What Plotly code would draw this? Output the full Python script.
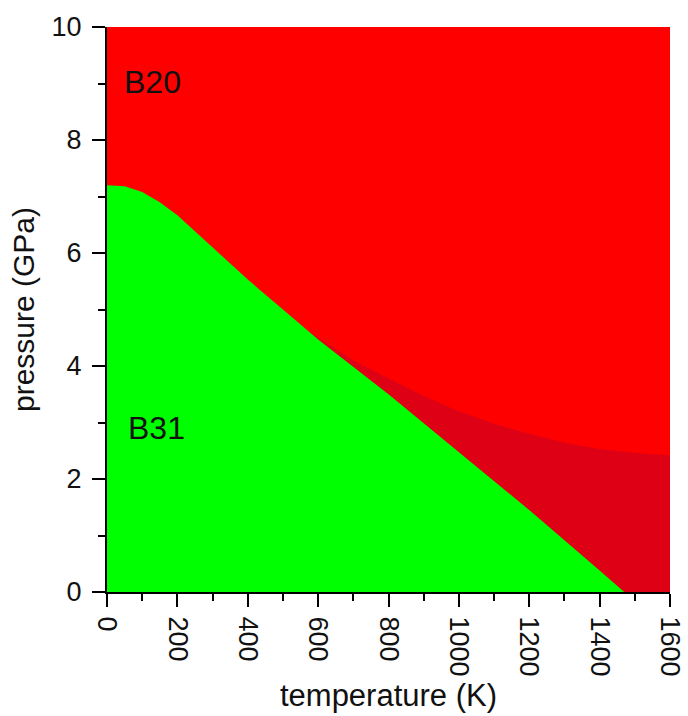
import plotly.graph_objects as go

# Phase boundary B31 -> B20 (green region upper edge)
T_green = [0, 50, 100, 150, 200, 300, 400, 500, 600, 800, 1000, 1200, 1400, 1470]
P_green = [7.2, 7.18, 7.08, 6.9, 6.67, 6.1, 5.53, 5.0, 4.47, 3.5, 2.48, 1.45, 0.38, 0.0]

# Upper edge of darker red region
T_upper = [570, 650, 700, 800, 900, 1000, 1100, 1200, 1300, 1400, 1500, 1600]
P_upper = [4.62, 4.3, 4.1, 3.78, 3.47, 3.2, 2.98, 2.8, 2.64, 2.53, 2.46, 2.42]

x_ticks = [0, 200, 400, 600, 800, 1000, 1200, 1400, 1600]
y_ticks = [0, 2, 4, 6, 8, 10]

RED = "#FF0000"
DARK = "#DE0014"
GREEN = "#00FF00"
FONT = "Liberation Sans, Arial, sans-serif"

fig = go.Figure()

# dark red region: below upper curve, extended to the right edge
fig.add_trace(go.Scatter(
    x=T_upper, y=P_upper, mode="lines", fill="tozeroy",
    fillcolor=DARK, line=dict(color=DARK, width=0), hoverinfo="skip", showlegend=False))

fig.add_trace(go.Scatter(
    x=T_green, y=P_green, mode="lines", fill="tozeroy",
    fillcolor=GREEN, line=dict(color=GREEN, width=0), hoverinfo="skip", showlegend=False))

fig.add_annotation(x=128, y=9.02, text="B20", showarrow=False,
                   font=dict(family=FONT, size=32, color="#111111"))
fig.add_annotation(x=142, y=2.9, text="B31", showarrow=False,
                   font=dict(family=FONT, size=32, color="#111111"))

fig.update_layout(
    width=688, height=716,
    margin=dict(l=107, r=18, t=27, b=124),
    paper_bgcolor="white", plot_bgcolor=RED,
    font=dict(family=FONT, size=27, color="#111111"),
    showlegend=False,
)

fig.update_xaxes(
    range=[0, 1600], tickvals=x_ticks, ticktext=[str(v) for v in x_ticks],
    tickangle=90, ticks="outside", ticklen=13, tickwidth=2, tickcolor="black",
    showline=True, linecolor="black", linewidth=2, showgrid=False, zeroline=False,
    minor=dict(dtick=100, tick0=0, ticks="outside", ticklen=7, tickwidth=2, tickcolor="black", showgrid=False),
    title=dict(text="temperature (K)", font=dict(size=31), standoff=9),
    tickfont=dict(size=27), ticklabelstandoff=4, automargin=False,
)
fig.update_yaxes(
    range=[0, 10], tickvals=y_ticks, ticktext=[str(v) for v in y_ticks],
    ticks="outside", ticklen=13, tickwidth=2, tickcolor="black",
    showline=True, linecolor="black", linewidth=2, showgrid=False, zeroline=False,
    minor=dict(dtick=1, tick0=0, ticks="outside", ticklen=7, tickwidth=2, tickcolor="black", showgrid=False),
    title=dict(text="pressure (GPa)", font=dict(size=30), standoff=8),
    tickfont=dict(size=27), ticklabelstandoff=5, automargin=False,
)

fig.write_html("out.html")
